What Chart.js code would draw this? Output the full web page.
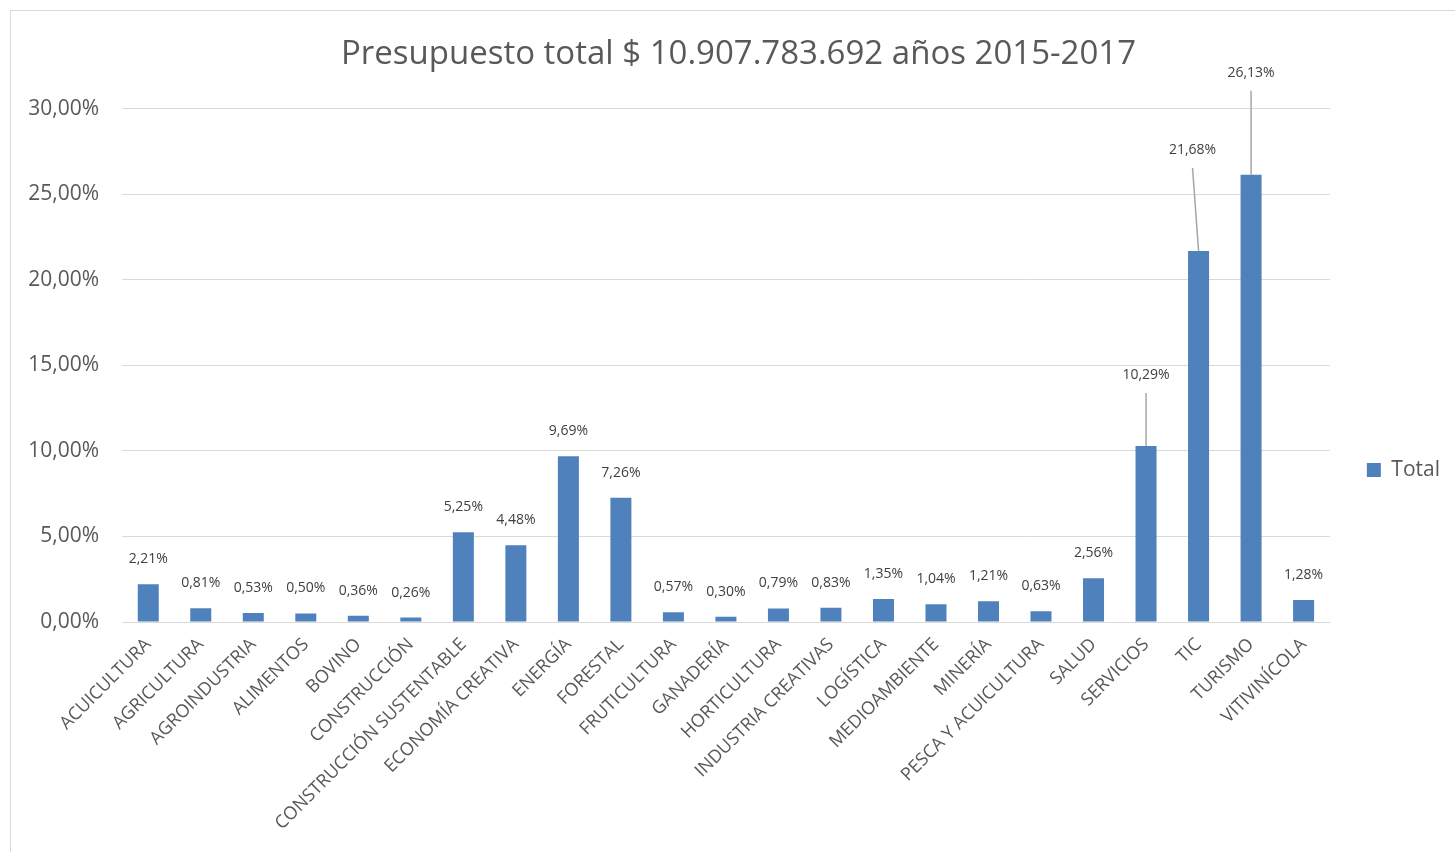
<!DOCTYPE html>
<html lang="es">

<head>
    <meta charset="UTF-8">
    <title>Presupuesto total 2015-2017</title>
    <style>
        html,
        body {
            margin: 0;
            padding: 0;
            background: #ffffff;
            overflow: hidden;
            font-family: "Open Sans", sans-serif;
        }

        .frame {
            position: absolute;
            left: 10px;
            top: 10px;
            width: 1500px;
            height: 900px;
            border: 1px solid #d9d9d9;
        }

        .chart-box {
            position: absolute;
            left: 11px;
            top: 11px;
            width: 1455px;
            height: 842px;
        }
    </style>
    <script src="https://cdn.jsdelivr.net/npm/chart.js"></script>
</head>

<body>
    <div class="frame"></div>
    <div class="chart-box">
        <canvas id="barChart" width="1455" height="842"></canvas>
    </div>

<script>
    const categories = [
        'ACUICULTURA', 'AGRICULTURA', 'AGROINDUSTRIA', 'ALIMENTOS', 'BOVINO',
        'CONSTRUCCIÓN', 'CONSTRUCCIÓN SUSTENTABLE', 'ECONOMÍA CREATIVA', 'ENERGÍA',
        'FORESTAL', 'FRUTICULTURA', 'GANADERÍA', 'HORTICULTURA', 'INDUSTRIA CREATIVAS',
        'LOGÍSTICA', 'MEDIOAMBIENTE', 'MINERÍA', 'PESCA Y ACUICULTURA', 'SALUD',
        'SERVICIOS', 'TIC', 'TURISMO', 'VITIVINÍCOLA'
    ];
    const totals = [
        2.21, 0.81, 0.53, 0.50, 0.36,
        0.26, 5.25, 4.48, 9.69,
        7.26, 0.57, 0.30, 0.79, 0.83,
        1.35, 1.04, 1.21, 0.63, 2.56,
        10.29, 21.68, 26.13, 1.28
    ];
    const yTicks = [0, 5, 10, 15, 20, 25, 30];

    const fmt = v => v.toFixed(2).replace('.', ',') + '%';

    // labels that sit higher with a leader line down to the bar (as in the Excel chart)
    const leaderLabels = {
        'SERVICIOS': { dy: 71, dx: 0 },
        'TIC': { dy: 101, dx: -6 },
        'TURISMO': { dy: 102, dx: 0 }
    };

    const valueLabels = {
        id: 'valueLabels',
        afterDatasetsDraw(chart) {
            const ctx = chart.ctx;
            const meta = chart.getDatasetMeta(0);
            ctx.save();
            ctx.font = '14px "Open Sans", sans-serif';
            ctx.fillStyle = '#404040';
            ctx.textAlign = 'center';
            ctx.textBaseline = 'middle';
            meta.data.forEach((bar, i) => {
                const lead = leaderLabels[categories[i]];
                if (lead) {
                    const tx = bar.x + lead.dx;
                    const ty = bar.y - lead.dy;
                    ctx.strokeStyle = '#a6a6a6';
                    ctx.lineWidth = 1.5;
                    ctx.beginPath();
                    ctx.moveTo(tx, ty + 18);
                    ctx.lineTo(bar.x, bar.y);
                    ctx.stroke();
                    ctx.fillText(fmt(totals[i]), tx, ty);
                } else {
                    ctx.fillText(fmt(totals[i]), bar.x, bar.y - 25);
                }
            });
            ctx.restore();
        }
    };

    const ctx = document.getElementById('barChart').getContext('2d');
    new Chart(ctx, {
        type: 'bar',
        data: {
            labels: categories,
            datasets: [{
                label: 'Total',
                data: totals,
                backgroundColor: '#4F81BD',
                barPercentage: 0.4,
                categoryPercentage: 1.0
            }]
        },
        options: {
            responsive: false,
            animation: false,
            layout: {
                padding: { left: 16, right: 16, top: 0, bottom: 22 }
            },
            scales: {
                x: {
                    grid: { display: false },
                    border: { color: '#d9d9d9', width: 1 },
                    ticks: {
                        color: '#595959',
                        font: { family: '"Open Sans", sans-serif', size: 18 },
                        minRotation: 45,
                        maxRotation: 45,
                        autoSkip: false,
                        padding: 4
                    },
                    afterFit(scale) {
                        scale.height = 209;
                    }
                },
                y: {
                    min: 0,
                    max: 30,
                    afterBuildTicks(scale) {
                        scale.ticks = yTicks.map(v => ({ value: v }));
                    },
                    grid: { color: '#d9d9d9', lineWidth: 1, drawTicks: false },
                    border: { display: false },
                    ticks: {
                        color: '#595959',
                        font: { family: '"Open Sans", sans-serif', size: 21 },
                        padding: 23,
                        callback: v => fmt(v)
                    },
                    afterFit(scale) {
                        scale.width = 95;
                    }
                }
            },
            plugins: {
                title: {
                    display: true,
                    text: 'Presupuesto total $ 10.907.783.692 años 2015-2017',
                    color: '#595959',
                    font: { family: '"Open Sans", sans-serif', size: 33, weight: 'normal' },
                    padding: { top: 24, bottom: 34 }
                },
                legend: {
                    position: 'right',
                    // empty title only pushes the single entry down to where Excel puts it
                    title: {
                        display: true,
                        text: ' ',
                        font: { size: 21 },
                        padding: { top: 73, bottom: 0 }
                    },
                    labels: {
                        color: '#595959',
                        font: { family: '"Open Sans", sans-serif', size: 21 },
                        boxWidth: 14,
                        boxHeight: 14,
                        padding: 37
                    }
                },
                tooltip: { enabled: false }
            }
        },
        plugins: [valueLabels]
    });
</script>

</body>

</html>
